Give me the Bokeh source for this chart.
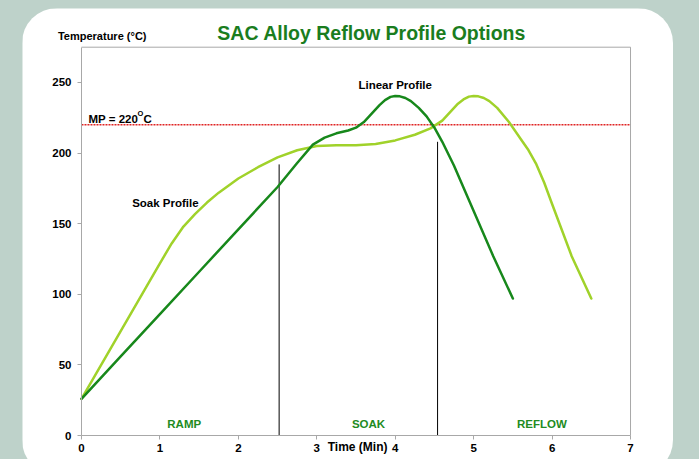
from bokeh.plotting import figure
from bokeh.models import Label, FixedTicker, Range1d
from bokeh.embed import file_html
from bokeh.resources import INLINE

# ---------------- data ----------------
linear_x = [0, 0.5, 1.0, 1.5, 2.0, 2.5, 2.75, 2.95, 3.1, 3.25, 3.4, 3.5, 3.6, 3.7, 3.8, 3.87,
            3.94, 4.0, 4.06, 4.13, 4.2, 4.3, 4.4, 4.5, 4.6, 4.75, 5.0, 5.25, 5.5]
linear_y = [26, 56, 86, 116, 146, 176, 193, 206, 211, 214, 216, 218, 222, 228, 234, 237.5,
            239.8, 240.5, 240.2, 239, 236.8, 232, 226, 218, 208, 191, 159, 127, 97]

soak_x = [0, 0.5, 1.0, 1.15, 1.3, 1.45, 1.6, 1.75, 2.0, 2.25, 2.5, 2.75, 3.0, 3.25, 3.5, 3.75,
          4.0, 4.25, 4.45, 4.6, 4.7, 4.8, 4.87, 4.94, 5.0, 5.06, 5.13, 5.2, 5.3, 5.45, 5.6,
          5.7, 5.8, 5.9, 6.0, 6.25, 6.5]
soak_y = [26, 74, 122, 136, 148, 157, 165, 172, 182, 190, 197, 202, 205, 205.5, 205.5, 206.5,
          209, 213, 217.5, 223, 229, 235, 238, 240, 240.5, 240.2, 239, 236.8, 232, 222, 210,
          202, 192, 179, 164, 127, 97]

mp_temp = 220
zone_x = [2.52, 4.54]
zone_top = [192, 208]
zone_names = ["RAMP", "SOAK", "REFLOW"]
zone_label_x = [1.31, 3.66, 5.87]

x_ticks = [0, 1, 2, 3, 4, 5, 6, 7]
y_ticks = [0, 50, 100, 150, 200, 250]
y_top = 275

# ---------------- style ----------------
FONT = "Liberation Sans"
BG = "#bed2ca"
DARK = "#17881b"
LIME = "#a0d22a"
TITLE_C = "#1a7d1e"
ZONE_C = "#228b22"
FRAME_C = "#a8a8a8"

p = figure(width=651, height=467, output_backend="svg", toolbar_location=None,
           x_range=Range1d(-0.752, 7.548), y_range=Range1d(-28.3, 302.4),
           min_border=0)
p.styles = {"border-radius": "35px", "overflow": "hidden"}
p.background_fill_color = "white"
p.border_fill_color = "white"
p.outline_line_color = None
p.grid.visible = False

for ax in (p.xaxis[0], p.yaxis[0]):
    ax.fixed_location = 0
    ax.axis_line_color = FRAME_C
    ax.major_tick_line_color = FRAME_C
    ax.major_tick_in = 0
    ax.major_tick_out = 4
    ax.minor_tick_line_color = None
    ax.major_label_text_font = FONT
    ax.major_label_text_font_style = "bold"
    ax.major_label_text_font_size = "11.5px"
    ax.major_label_text_color = "black"
p.xaxis[0].ticker = FixedTicker(ticks=x_ticks)
p.yaxis[0].ticker = FixedTicker(ticks=y_ticks)
p.xaxis[0].bounds = (x_ticks[0], x_ticks[-1])
p.yaxis[0].bounds = (0, y_top)
p.xaxis[0].major_label_standoff = 4
p.yaxis[0].major_label_standoff = 6

# frame top and right edges
p.line([x_ticks[0], x_ticks[-1]], [y_top, y_top], line_color=FRAME_C, line_width=1)
p.line([x_ticks[-1], x_ticks[-1]], [0, y_top], line_color=FRAME_C, line_width=1)

# MP line
p.line([x_ticks[0], x_ticks[-1]], [mp_temp, mp_temp], line_color="#e02424",
       line_width=1.5, line_dash="2 1")

# zone dividers
p.segment(x0=zone_x, y0=[0, 0], x1=zone_x, y1=zone_top, line_color="black", line_width=1)

# profiles
p.line(soak_x, soak_y, line_color=LIME, line_width=2.5, line_join="round", line_cap="round")
p.line(linear_x, linear_y, line_color=DARK, line_width=2.5, line_join="round", line_cap="round")


def lab(x, y, text, size="11.5px", color="black", align="center", baseline="middle",
        bold=True, xo=0, yo=0):
    p.add_layout(Label(x=x, y=y, text=text, text_font=FONT, text_font_size=size,
                       text_color=color, text_align=align, text_baseline=baseline,
                       text_font_style="bold" if bold else "normal",
                       x_offset=xo, y_offset=yo))


lab(3.70, 284.7, "SAC Alloy Reflow Profile Options", size="19.5px", color=TITLE_C)
lab(-0.30, 282.6, "Temperature (°C)", size="11px", align="left")
lab(3.52, -8.3, "Time (Min)", size="12px")
lab(4.0, 248, "Linear Profile")
lab(1.07, 165, "Soak Profile")
for nm, zx in zip(zone_names, zone_label_x):
    lab(zx, 8, nm, color=ZONE_C)

# MP = 220°C label with superscript O
lab(0.09, mp_temp + 4.5, "MP = " + str(mp_temp), align="left", baseline="alphabetic")
lab(0.09, mp_temp + 4.5, "O", size="7.5px", align="left", baseline="alphabetic", xo=49, yo=5)
lab(0.09, mp_temp + 4.5, "C", align="left", baseline="alphabetic", xo=55)

html = file_html(p, INLINE)
html = html.replace("</head>", "<style>html,body{background:%s;overflow:hidden;}"
                    "body{margin:8px 0 0 22px;}</style></head>" % BG, 1)
open("out.html", "w").write(html)
